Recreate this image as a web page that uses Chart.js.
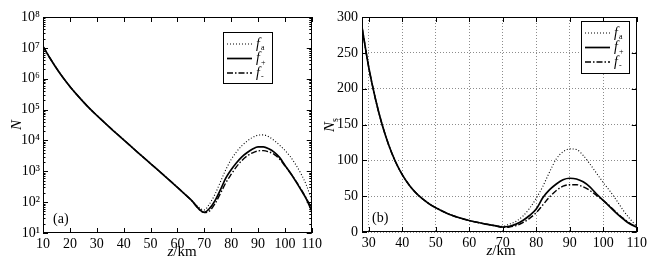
<!DOCTYPE html>
<html>
<head>
<meta charset="utf-8">
<script src="https://cdn.jsdelivr.net/npm/chart.js@4.4.1/dist/chart.umd.min.js"></script>
<style>
  html, body { margin: 0; padding: 0; background: #fff; }
  #wrap { position: relative; width: 650px; height: 264px; overflow: hidden; font-family: "Liberation Serif", "DejaVu Serif", serif; }
  #wrap canvas { position: absolute; top: 0; }
  .lbl { position: absolute; font-size: 15px; color: #000; white-space: nowrap; line-height: 1; transform: translate(-50%, -50%); }
  .rot { transform: translate(-50%, -50%) rotate(-90deg); }
</style>
</head>
<body>
<div id="wrap">
  <canvas id="chartA" width="325" height="264" style="left:0"></canvas>
  <canvas id="chartB" width="325" height="264" style="left:325px"></canvas>
  <div class="lbl rot" style="left:16px;top:125px"><i>N</i></div>
  <div class="lbl" style="left:182px;top:251px"><i>z</i>/km</div>
  <div class="lbl rot" style="left:331px;top:125px"><i>N</i><sub style="font-size:10px">s</sub></div>
  <div class="lbl" style="left:501px;top:250px"><i>z</i>/km</div>
</div>
<script>
// (a) N(z), log scale — shared descent below 70 km, then the three curves
const zDesc = [10, 12.5, 15, 17.5, 20, 22.5, 25, 27.5, 30, 35, 40, 45, 50, 55, 60, 65];
const nDesc = [1.12e7, 4.8e6, 2.19e6, 1.07e6, 5.6e5, 3.1e5, 1.78e5, 1.05e5, 6.5e4, 2.57e4, 1.05e4, 4.27e3, 1.78e3, 741, 302, 120];
const zBump = [70, 72, 74, 76, 78, 80, 82, 84, 86, 88, 90, 92, 94, 96, 98, 100, 102, 104, 106, 108, 110];
const nA = [56, 89, 180, 450, 1120, 2400, 4270, 6760, 9550, 12600, 14800, 15100, 13200, 10000, 7080, 4790, 3020, 1660, 830, 355, 112];
const nP = [47, 63, 112, 250, 600, 1120, 1900, 2950, 4070, 5250, 6170, 6170, 5370, 4170, 2820, 1580, 890, 480, 250, 126, 52];
const nM = [46, 52, 89, 190, 420, 790, 1410, 2240, 3160, 3980, 4570, 4680, 4270, 3550, 2510, 1510, 890, 500, 263, 132, 60];

// (b) Ns(z), linear scale
const zsDesc = [28, 30, 32, 34, 36, 38, 40, 42, 44, 46, 48, 50, 55, 60, 65, 68];
const nsDesc = [286, 230, 186, 150, 121, 98, 80, 66, 55, 46.5, 39.5, 34, 23, 16, 11, 8.5];
const nsA = [8, 11, 15, 22, 33, 47, 64, 84, 102, 112, 116, 115, 107, 95, 82, 69, 57, 44, 30, 18, 8];
const nsP = [7, 8, 11, 16, 23, 32, 48, 59, 67, 73, 75, 74, 70, 63, 53, 44, 35, 26, 18, 11, 7];
const nsM = [6.5, 7, 9, 13, 19, 27, 38, 49, 58, 64, 66, 66, 63, 58, 51, 44, 36, 27, 19, 12, 7];

const xTicksA = [10, 20, 30, 40, 50, 60, 70, 80, 90, 100, 110];
const xTicksB = [30, 40, 50, 60, 70, 80, 90, 100, 110];
const yTicksA = [1e1, 1e2, 1e3, 1e4, 1e5, 1e6, 1e7, 1e8];
const legendNames = ['a', '+', '-'];

const SERIF = '"Liberation Serif", "DejaVu Serif", serif';
const SUP = ['\u2070', '\u00b9', '\u00b2', '\u00b3', '\u2074', '\u2075', '\u2076', '\u2077', '\u2078'];

function pts(xs, ys) { return xs.map((x, i) => ({ x, y: ys[i] })); }

function series(xd, yd, xb, yb, style) {
  return Object.assign({
    data: pts(xd, yd).concat(pts(xb, yb)),
    borderColor: '#000', pointRadius: 0, cubicInterpolationMode: 'monotone', fill: false
  }, style);
}
const styles = [
  { borderWidth: 1.1, borderDash: [1, 2] },
  { borderWidth: 1.7 },
  { borderWidth: 1.4, borderDash: [6, 2, 1.5, 2] }
];

// frame with inward ticks, plus legend box and panel tag
const frameTicks = {
  id: 'frameTicks',
  afterDraw(chart, args, opts) {
    const { ctx, chartArea: a, scales: { x, y } } = chart;
    ctx.save();
    ctx.strokeStyle = '#000';
    ctx.lineWidth = 1;
    ctx.setLineDash([]);
    ctx.beginPath();
    x.ticks.forEach((t) => {
      const px = Math.round(x.getPixelForValue(t.value)) + 0.5;
      ctx.moveTo(px, a.bottom); ctx.lineTo(px, a.bottom - 5);
      ctx.moveTo(px, a.top); ctx.lineTo(px, a.top + 5);
    });
    y.ticks.forEach((t) => {
      const py = Math.round(y.getPixelForValue(t.value)) + 0.5;
      ctx.moveTo(a.left, py); ctx.lineTo(a.left + 5, py);
      ctx.moveTo(a.right, py); ctx.lineTo(a.right - 5, py);
    });
    if (opts.minor) {
      for (let d = 1; d < 8; d++) {
        for (let k = 2; k < 10; k++) {
          const py = Math.round(y.getPixelForValue(k * Math.pow(10, d))) + 0.5;
          ctx.moveTo(a.left, py); ctx.lineTo(a.left + 2.5, py);
          ctx.moveTo(a.right, py); ctx.lineTo(a.right - 2.5, py);
        }
      }
    }
    ctx.stroke();
    ctx.strokeRect(Math.round(a.left) + 0.5, Math.round(a.top) + 0.5, Math.round(a.width) - 1, Math.round(a.height) - 1);

    // legend
    const b = opts.box;
    ctx.fillStyle = '#fff';
    ctx.fillRect(b.x, b.y, b.w, b.h);
    ctx.strokeRect(b.x + 0.5, b.y + 0.5, b.w, b.h);
    chart.data.datasets.forEach((ds, i) => {
      const ly = b.y + 12 + i * 14.5;
      ctx.beginPath();
      ctx.lineWidth = ds.borderWidth;
      ctx.setLineDash(ds.borderDash || []);
      ctx.moveTo(b.x + 4, ly); ctx.lineTo(b.x + 29, ly);
      ctx.stroke();
      ctx.setLineDash([]);
      ctx.fillStyle = '#000';
      ctx.textBaseline = 'middle';
      ctx.textAlign = 'left';
      ctx.font = 'italic 14px ' + SERIF;
      ctx.fillText('f', b.x + 33, ly);
      ctx.font = '8px ' + SERIF;
      ctx.fillText(legendNames[i], b.x + 38, ly + 4);
    });

    ctx.font = '14px ' + SERIF;
    ctx.fillStyle = '#000';
    ctx.textBaseline = 'middle';
    ctx.fillText(opts.tag, a.left + 10, a.bottom - 14);
    ctx.restore();
  }
};

const tickFont = { family: SERIF, size: 14 };

new Chart(document.getElementById('chartA'), {
  type: 'line',
  data: {
    datasets: [
      series(zDesc, nDesc, zBump, nA, styles[0]),
      series(zDesc, nDesc, zBump, nP, styles[1]),
      series(zDesc, nDesc, zBump, nM, styles[2])
    ]
  },
  options: {
    responsive: false, animation: false, events: [],
    layout: { padding: { left: 0, right: 9, top: 17, bottom: 0 } },
    plugins: {
      legend: { display: false }, tooltip: { enabled: false },
      frameTicks: { minor: true, tag: '(a)', box: { x: 223, y: 32, w: 49, h: 51 } }
    },
    scales: {
      x: {
        type: 'linear', min: 10, max: 110,
        afterBuildTicks: (s) => { s.ticks = xTicksA.map((v) => ({ value: v })); },
        afterFit: (s) => { s.height = 31; },
        grid: { display: false, drawTicks: false }, border: { display: false },
        ticks: { font: tickFont, color: '#000', padding: 3, maxRotation: 0 }
      },
      y: {
        type: 'logarithmic', min: 10, max: 1e8,
        afterBuildTicks: (s) => { s.ticks = yTicksA.map((v) => ({ value: v, major: true })); },
        afterFit: (s) => { s.width = 43; },
        grid: { display: false, drawTicks: false }, border: { display: false },
        ticks: {
          font: tickFont, color: '#000', padding: 3,
          callback: (v) => '10' + SUP[Math.round(Math.log10(v))]
        }
      }
    }
  },
  plugins: [frameTicks]
});

new Chart(document.getElementById('chartB'), {
  type: 'line',
  data: {
    datasets: [
      series(zsDesc, nsDesc, zBump, nsA, styles[0]),
      series(zsDesc, nsDesc, zBump, nsP, styles[1]),
      series(zsDesc, nsDesc, zBump, nsM, styles[2])
    ]
  },
  options: {
    responsive: false, animation: false, events: [],
    layout: { padding: { left: 0, right: 13, top: 17, bottom: 0 } },
    plugins: {
      legend: { display: false }, tooltip: { enabled: false },
      frameTicks: { minor: false, tag: '(b)', box: { x: 256, y: 21, w: 48, h: 52 } }
    },
    scales: {
      x: {
        type: 'linear', min: 28, max: 110,
        afterBuildTicks: (s) => { s.ticks = xTicksB.map((v) => ({ value: v })); },
        afterFit: (s) => { s.height = 32; },
        grid: { color: '#8c8c8c', lineWidth: 1, drawTicks: false },
        border: { display: false, dash: [1, 2] },
        ticks: { font: tickFont, color: '#000', padding: 3, maxRotation: 0 }
      },
      y: {
        type: 'linear', min: 0, max: 300,
        ticks: { stepSize: 50, font: tickFont, color: '#000', padding: 4 },
        afterFit: (s) => { s.width = 37; },
        grid: { color: '#8c8c8c', lineWidth: 1, drawTicks: false },
        border: { display: false, dash: [1, 2] }
      }
    }
  },
  plugins: [frameTicks]
});
</script>
</body>
</html>
